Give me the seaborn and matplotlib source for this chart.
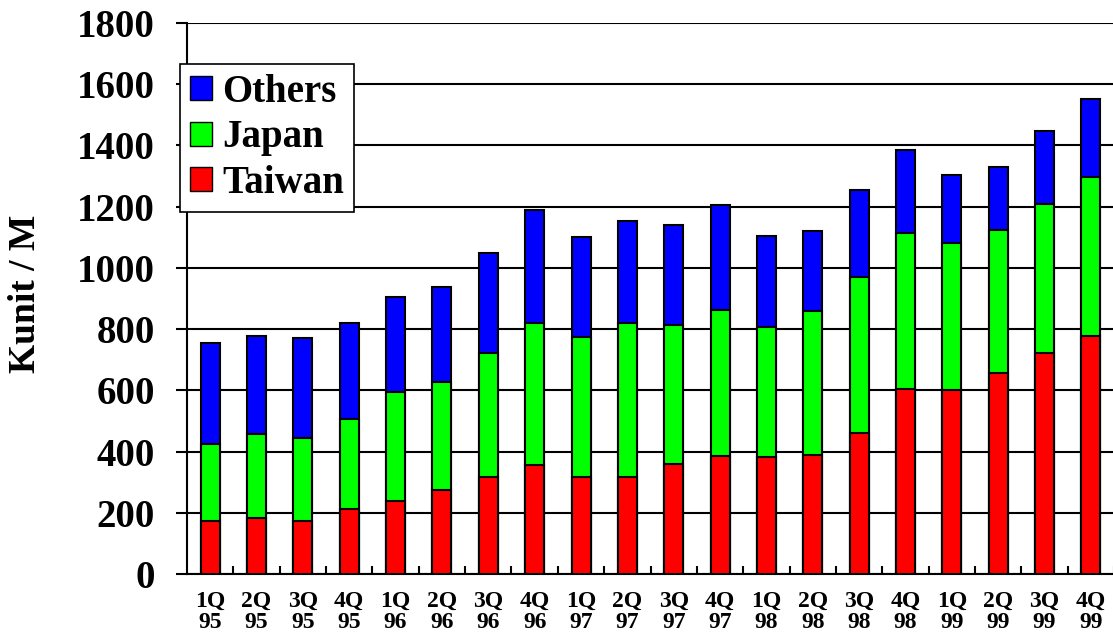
import matplotlib.pyplot as plt
import matplotlib.patches as mpatches
from matplotlib.ticker import MultipleLocator
import numpy as np
import pandas as pd
import seaborn as sns

quarters = ["1Q\n95", "2Q\n95", "3Q\n95", "4Q\n95",
            "1Q\n96", "2Q\n96", "3Q\n96", "4Q\n96",
            "1Q\n97", "2Q\n97", "3Q\n97", "4Q\n97",
            "1Q\n98", "2Q\n98", "3Q\n98", "4Q\n98",
            "1Q\n99", "2Q\n99", "3Q\n99", "4Q\n99"]
taiwan = [172, 184, 174, 213, 240, 276, 316, 355, 316, 316,
          358, 387, 382, 390, 461, 603, 601, 657, 721, 777]
japan = [253, 272, 271, 293, 356, 350, 407, 466, 457, 505,
         454, 475, 424, 469, 509, 512, 479, 468, 487, 521]
others = [328, 321, 327, 314, 309, 311, 325, 369, 329, 333,
          328, 345, 297, 260, 286, 269, 225, 206, 239, 254]

df = pd.DataFrame({"quarter": quarters, "Taiwan": taiwan,
                   "Japan": japan, "Others": others})
df["tw_jp"] = df["Taiwan"] + df["Japan"]
df["total"] = df["tw_jp"] + df["Others"]

sns.set_style("white")
plt.rcParams["font.family"] = ["Liberation Serif", "DejaVu Serif"]
plt.rcParams["font.weight"] = "bold"
plt.rcParams["text.color"] = "black"
plt.rcParams["axes.labelcolor"] = "black"
plt.rcParams["xtick.color"] = "black"
plt.rcParams["ytick.color"] = "black"

fig = plt.figure(figsize=(11.13, 6.44), dpi=100)
ax = fig.add_axes([0.168, 0.1087, 0.833, 0.8556])

# stacked bars: draw cumulative heights, tallest first
layers = [("total", "#0000FF"), ("tw_jp", "#00FF00"), ("Taiwan", "#FF0000")]
for col, color in layers:
    sns.barplot(data=df, x="quarter", y=col, color=color, saturation=1,
                edgecolor="black", linewidth=1.5, width=0.41,
                errorbar=None, ax=ax, zorder=3)

ax.set_xlim(-0.5, 19.5)
ax.set_ylim(0, 1800)
ax.yaxis.set_major_locator(MultipleLocator(200))
ax.grid(axis="y", color="black", linewidth=1.5, zorder=0)
ax.set_axisbelow(True)

for s in ["top", "right"]:
    ax.spines[s].set_visible(False)
for s in ["left", "bottom"]:
    ax.spines[s].set_color("black")
    ax.spines[s].set_linewidth(1.5)

ax.set_xlabel("")
ax.set_ylabel("Kunit / M", fontsize=27, fontweight="bold")
ax.yaxis.set_label_coords(-0.155, 0.509)

ax.tick_params(axis="y", labelsize=28, direction="out", length=8, width=1.5,
               pad=15, left=True)
ax.tick_params(axis="x", which="major", labelsize=17, length=0, pad=12)
ax.set_xticks(np.arange(20) + 0.5, minor=True)
ax.tick_params(axis="x", which="minor", direction="in", length=6, width=1.5,
               bottom=True)
for lab in ax.get_xticklabels() + ax.get_yticklabels():
    lab.set_fontweight("bold")
for lab in ax.get_xticklabels():
    lab.set_linespacing(1.0)

handles = [mpatches.Patch(facecolor="#0000FF", edgecolor="black", label="Others"),
           mpatches.Patch(facecolor="#00FF00", edgecolor="black", label="Japan"),
           mpatches.Patch(facecolor="#FF0000", edgecolor="black", label="Taiwan")]
leg = ax.legend(handles=handles, loc="upper left",
                bbox_to_anchor=(180 / 1113, 1 - 64 / 644),
                bbox_transform=fig.transFigure, frameon=True,
                fancybox=False, edgecolor="black", framealpha=1,
                borderaxespad=0, borderpad=0.25, handlelength=0.57,
                handleheight=0.57, handletextpad=0.26, labelspacing=0.22,
                prop={"weight": "bold", "size": 28})
leg.get_frame().set_linewidth(1.2)
leg.set_zorder(5)

fig.savefig("out.png", dpi=100)
